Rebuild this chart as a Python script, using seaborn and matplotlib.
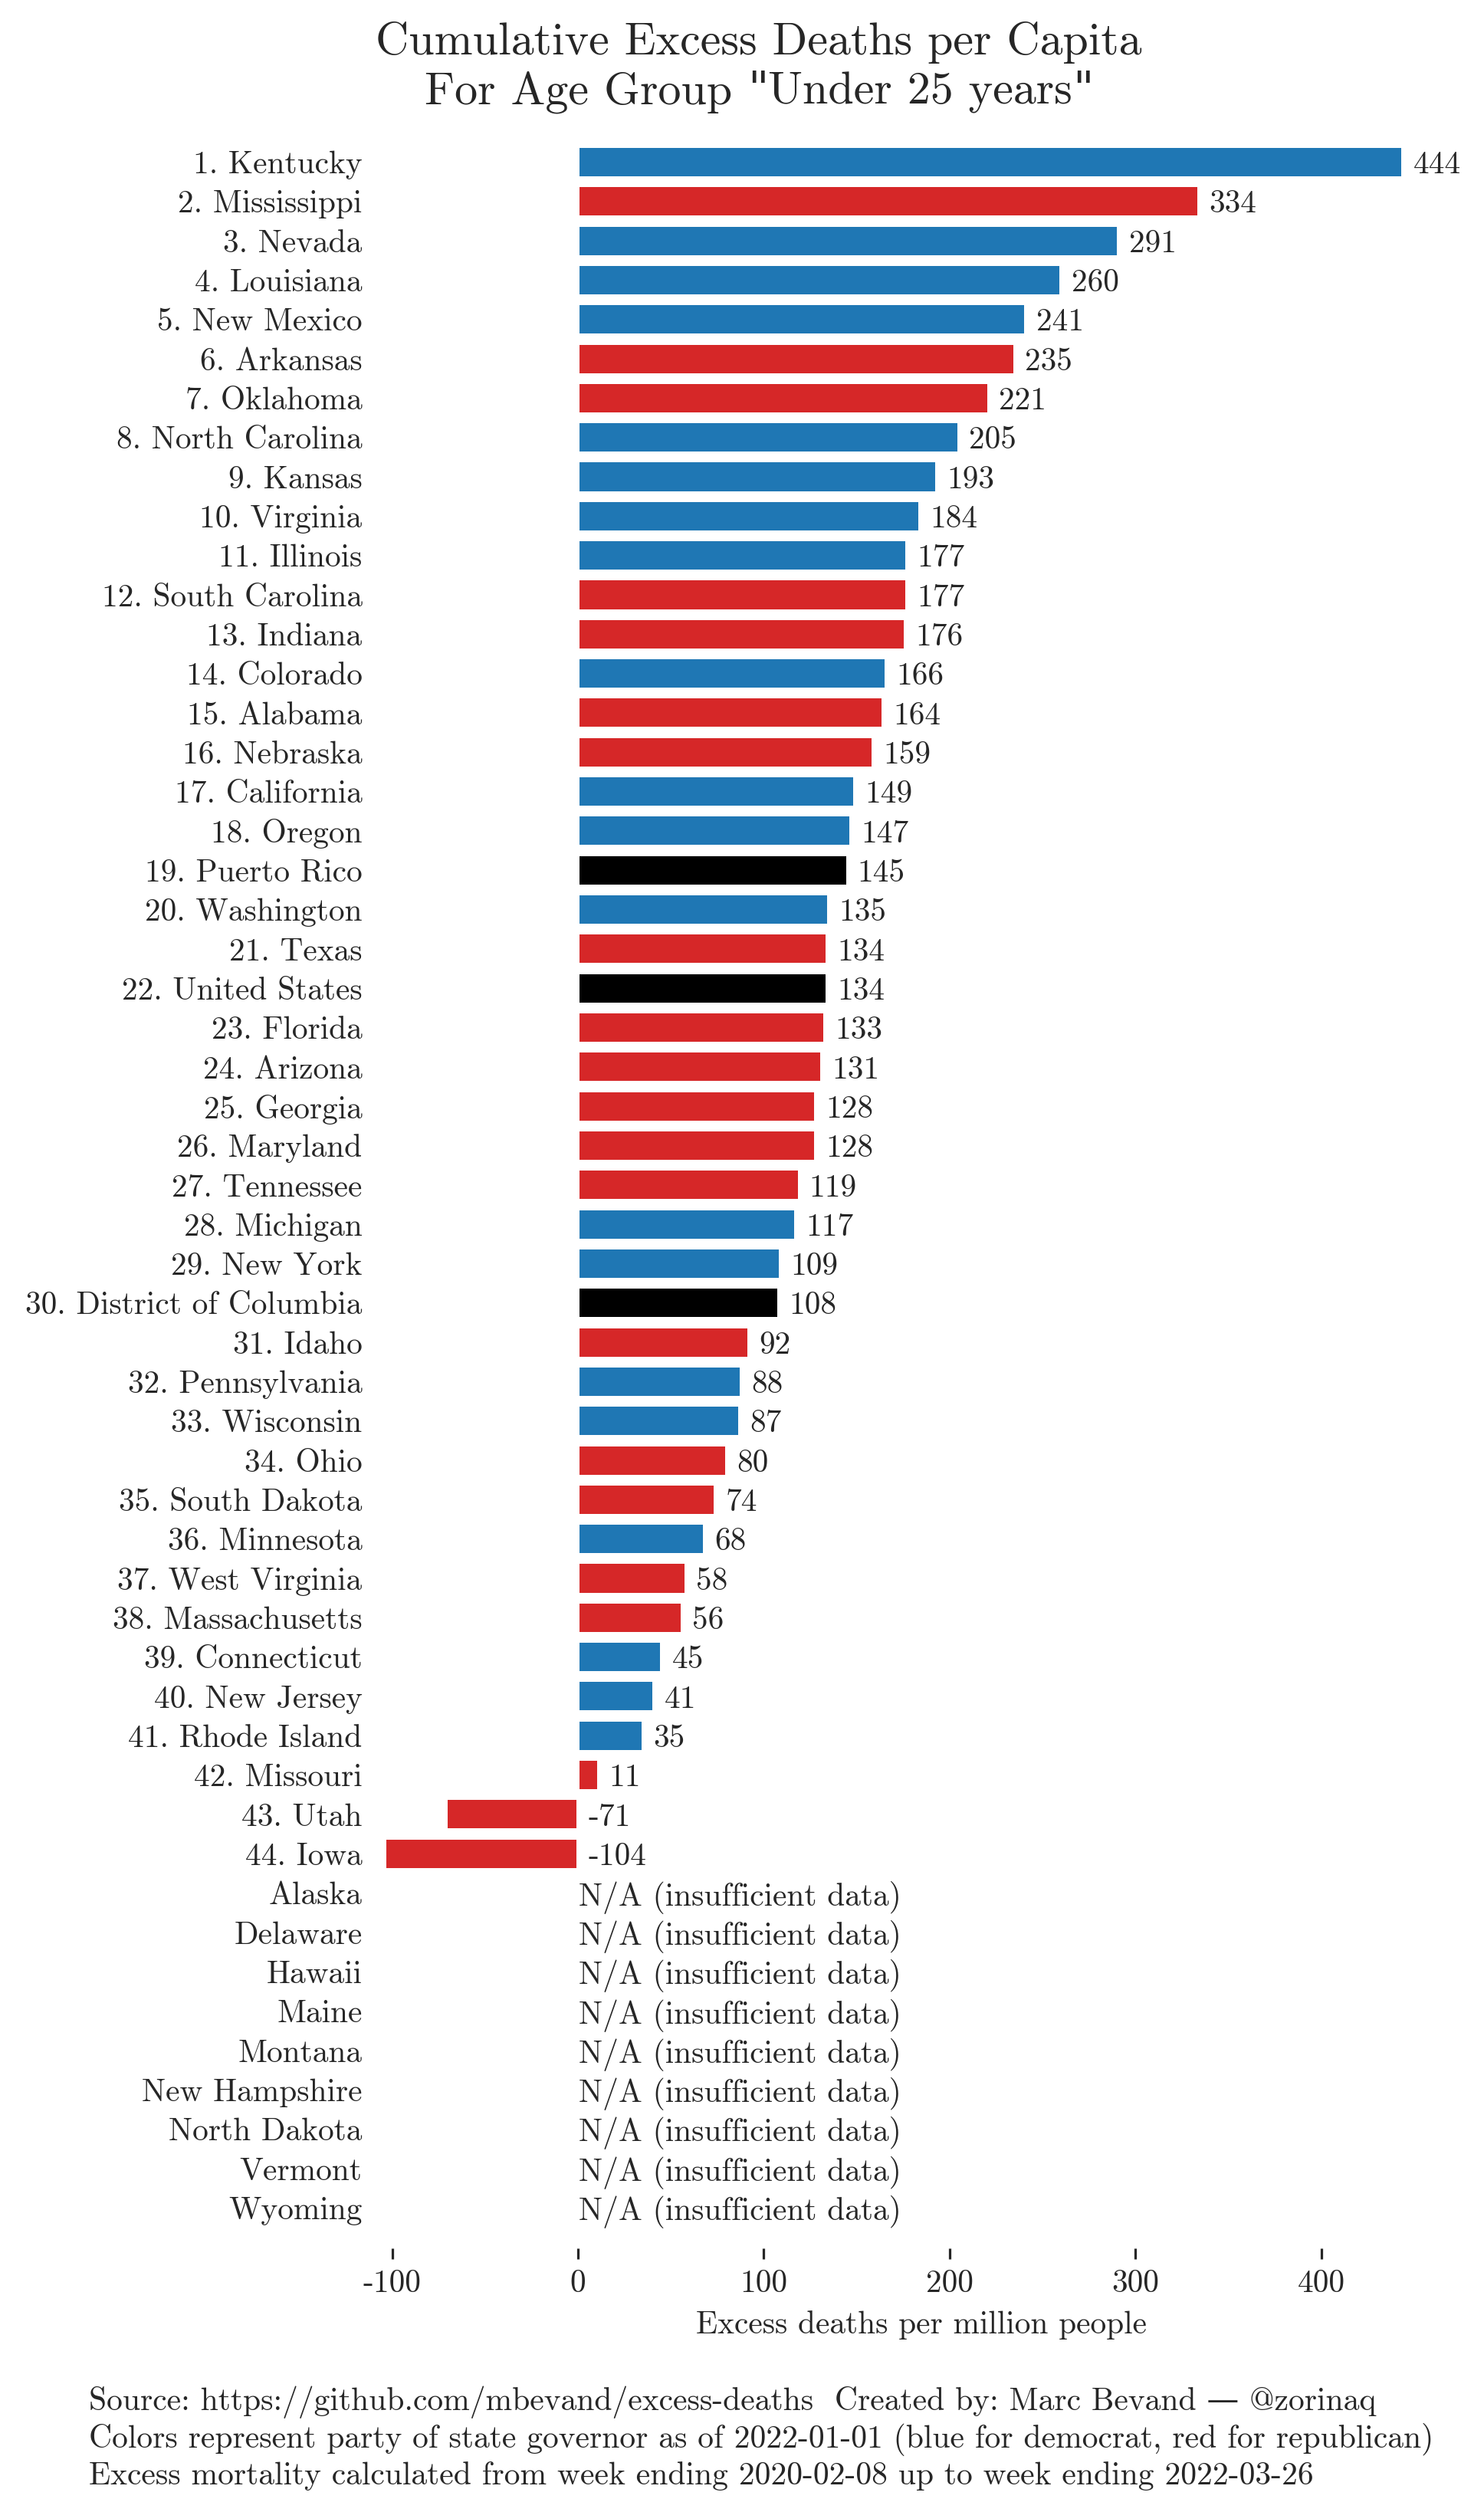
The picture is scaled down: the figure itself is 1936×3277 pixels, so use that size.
import pandas as pd
import numpy as np
import seaborn as sns
import matplotlib.pyplot as plt
from matplotlib.transforms import offset_copy

sns.set_style('white')
plt.rcParams['font.family'] = ['cmr10', 'DejaVu Serif']
plt.rcParams['axes.unicode_minus'] = False

# states ranked, value = excess deaths per million, party of governor
states = ['Kentucky', 'Mississippi', 'Nevada', 'Louisiana', 'New Mexico', 'Arkansas',
          'Oklahoma', 'North Carolina', 'Kansas', 'Virginia', 'Illinois', 'South Carolina',
          'Indiana', 'Colorado', 'Alabama', 'Nebraska', 'California', 'Oregon',
          'Puerto Rico', 'Washington', 'Texas', 'United States', 'Florida', 'Arizona',
          'Georgia', 'Maryland', 'Tennessee', 'Michigan', 'New York',
          'District of Columbia', 'Idaho', 'Pennsylvania', 'Wisconsin', 'Ohio',
          'South Dakota', 'Minnesota', 'West Virginia', 'Massachusetts', 'Connecticut',
          'New Jersey', 'Rhode Island', 'Missouri', 'Utah', 'Iowa']
values = [444, 334, 291, 260, 241, 235, 221, 205, 193, 184, 177, 177, 176, 166, 164, 159,
          149, 147, 145, 135, 134, 134, 133, 131, 128, 128, 119, 117, 109, 108, 92, 88,
          87, 80, 74, 68, 58, 56, 45, 41, 35, 11, -71, -104]
party = ['D', 'R', 'D', 'D', 'D', 'R', 'R', 'D', 'D', 'D', 'D', 'R', 'R', 'D', 'R', 'R',
         'D', 'D', 'X', 'D', 'R', 'X', 'R', 'R', 'R', 'R', 'R', 'D', 'D', 'X', 'R', 'D',
         'D', 'R', 'R', 'D', 'R', 'R', 'D', 'D', 'D', 'R', 'R', 'R']
na_states = ['Alaska', 'Delaware', 'Hawaii', 'Maine', 'Montana', 'New Hampshire',
             'North Dakota', 'Vermont', 'Wyoming']

party_colors = {'D': '#1f77b4', 'R': '#d62728', 'X': '#000000'}

labels = ['%d. %s' % (i + 1, s) for i, s in enumerate(states)]
df = pd.DataFrame({'label': labels, 'value': values, 'party': party})
order = labels + na_states
palette = {l: party_colors[p] for l, p in zip(labels, party)}

FS = 10.35
W, H, DPI = 1936, 3277, 288
fig = plt.figure(figsize=(W / DPI, H / DPI), dpi=DPI)
# axes placed so that x=0 sits at px 754 and rows are ~51.3 px apart
ax = fig.add_axes([487.4 / W, 1 - 2933 / H, 1430.2 / W, (2933 - 158.6) / H])

sns.barplot(data=df, x='value', y='label', hue='label', palette=palette, order=order,
            hue_order=labels, legend=False, orient='h', width=0.8, saturation=1,
            errorbar=None, ax=ax)

ax.set_xlim(-110, 480)
ax.set_ylim(len(order) - 1 + 1.03, -1.03)

for i, v in enumerate(values):
    ax.text(max(v, 0) + 5.5, i, str(v), va='center_baseline', ha='left', fontsize=FS)
for j, s in enumerate(na_states):
    ax.text(0.3, len(labels) + j, 'N/A (insufficient data)', va='center_baseline',
            ha='left', fontsize=FS)

ax.set_xticks([-100, 0, 100, 200, 300, 400])
ax.tick_params(axis='x', length=3.5, width=0.8, labelsize=FS, bottom=True)
ax.tick_params(axis='y', length=0, pad=3.7, labelsize=FS)
ax.set_ylabel('')
ax.set_xlabel('Excess deaths per million people', fontsize=FS)
sns.despine(ax=ax, left=True, bottom=True)


def seg_text(x, y, segments, size):
    # draw pieces side by side (straight quotes come from another font), centred at x
    renderer = fig.canvas.get_renderer()
    arts = []
    dx = 0.0
    for s, fam in segments:
        t = fig.text(x, y, s, ha='left', va='baseline', fontsize=size, family=fam,
                     transform=offset_copy(fig.transFigure, fig=fig, x=dx, y=0, units='dots'))
        dx += t.get_window_extent(renderer).width
        arts.append(t)
    total = dx
    dx = 0.0
    for t in arts:
        w = t.get_window_extent(renderer).width
        t.set_transform(offset_copy(fig.transFigure, fig=fig, x=dx - total / 2, y=0, units='dots'))
        dx += w


TS = 15
fig.text(990 / W, 1 - 71 / H, 'Cumulative Excess Deaths per Capita', ha='center',
         va='baseline', fontsize=TS)
seg_text(990 / W, 1 - 135 / H,
         [('For Age Group ', 'cmr10'), ('"', 'DejaVu Serif'),
          ('Under 25 years', 'cmr10'), ('"', 'DejaVu Serif')], TS)

footer = ['Source: https://github.com/mbevand/excess-deaths  Created by: Marc Bevand \u2014 @zorinaq',
          'Colors represent party of state governor as of 2022-01-01 (blue for democrat, red for republican)',
          'Excess mortality calculated from week ending 2020-02-08 up to week ending 2022-03-26']
for k, line in enumerate(footer):
    fig.text(116 / W, 1 - (3144 + 48.5 * k) / H, line, ha='left', va='baseline', fontsize=10.4)

fig.savefig('out.png', dpi=DPI)
